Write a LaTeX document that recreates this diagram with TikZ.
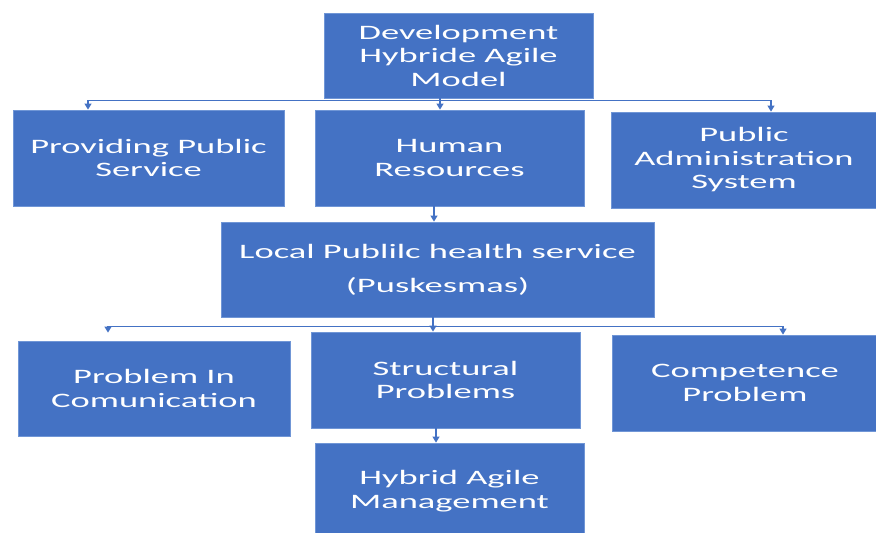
\documentclass[tikz,border=0pt]{standalone}
\usepackage{fontspec}
\setmainfont{Carlito}[FakeStretch=1.78]
\usetikzlibrary{positioning, arrows.meta}
\definecolor{boxblue}{HTML}{4472C4}
\definecolor{rimblue}{HTML}{7096D6}

\begin{document}
\begin{tikzpicture}[x=1pt, y=1pt]
    % Styles
    \tikzstyle{box} = [rectangle, fill=boxblue, draw=rimblue, line width=0.8pt, text=white, align=center, inner sep=0pt, font=\fontsize{20.5}{23.5}\selectfont]
    \tikzstyle{link} = [draw=boxblue, line width=1.1pt, -{Triangle[width=7pt, length=6pt]}]

    \useasboundingbox (0,0) rectangle (876,533);
    \clip (0,0) rectangle (876,533);

    % Nodes
    \node[box, minimum width=269pt, minimum height=85pt] (dev) at (458.5, 477.5) {Development\\Hybride Agile\\Model};
    \node[box, minimum width=271pt, minimum height=96pt] (service) at (148.5, 375) {Providing Public\\Service};
    \node[box, minimum width=269pt, minimum height=96pt] (hr) at (449.5, 375) {Human\\Resources};
    \node[box, minimum width=266pt, minimum height=96pt] (admin) at (744, 373) {Public\\Administration\\System};
    \node[box, minimum width=433pt, minimum height=95pt, font=\fontsize{20.5}{34}\selectfont] (local) at (437.5, 263.5) {Local Publilc health service\\(Puskesmas)};
    \node[box, minimum width=272pt, minimum height=95pt] (comm) at (154, 144.5) {Problem In\\Comunication};
    \node[box, minimum width=269pt, minimum height=96pt] (struct) at (445.5, 153) {Structural\\Problems};
    \node[box, minimum width=266pt, minimum height=96pt] (comp) at (745, 150) {Competence\\Problem};
    \node[box, minimum width=269pt, minimum height=96pt] (hybrid) at (449.5, 42) {Hybrid Agile\\Management};

    % Edges
    \draw[link] ([xshift=-18.5pt]dev.south) -- ++(0,-2) -| ([xshift=-60.5pt]service.north);
    \draw[link] ([xshift=-18.5pt]dev.south) -- ([xshift=-9.5pt]hr.north);
    \draw[link] ([xshift=-18.5pt]dev.south) -- ++(0,-2) -| ([xshift=27pt]admin.north);
    \draw[link] ([xshift=-15.5pt]hr.south) -- ([xshift=-3.5pt]local.north);
    \draw[link, shorten >=8pt] ([xshift=-4.5pt]local.south) -- ++(0,-9) -| ([xshift=-46pt]comm.north);
    \draw[link] ([xshift=-4.5pt]local.south) -- ([xshift=-12.5pt]struct.north);
    \draw[link] ([xshift=-4.5pt]local.south) -- ++(0,-9) -| ([xshift=38pt]comp.north);
    \draw[link] ([xshift=-9.5pt]struct.south) -- ([xshift=-13.5pt]hybrid.north);
\end{tikzpicture}
\end{document}
